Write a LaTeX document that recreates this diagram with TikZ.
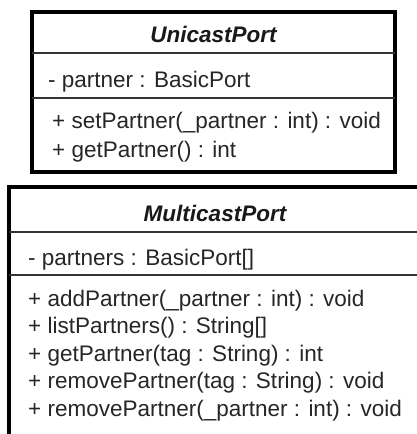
\documentclass[tikz,border=0pt]{standalone}
\usepackage{fontspec}
\setmainfont{Liberation Sans}
\usetikzlibrary{positioning}
\tikzset{%
  classbox/.style={draw=black, line width=4pt, fill=white},
  sepline/.style={draw=black!80, line width=1.6pt},
  member/.style={anchor=base west, inner sep=0pt, text=black!85, font=\fontsize{22.5}{26}\selectfont},
  classname/.style={anchor=base, inner sep=0pt, text=black!90, font=\fontsize{22.5}{26}\selectfont\bfseries\itshape}
}

\begin{document}
\begin{tikzpicture}[x=1pt,y=-1pt]
\clip (0,0) rectangle (417,434);
\fill[white] (0,0) rectangle (417,434);
% UnicastPort
\draw[classbox] (32,12) rectangle (395,172);
\draw[sepline] (32,53)--(395,53);
\draw[sepline] (32,98)--(395,98);
\node[classname] (uniName) at (213.5,42) {UnicastPort};
\node[member] (uniAttr) at (48,87) {- partner : BasicPort};
\node[member] (uniSet) at (52,128) {+ setPartner(\_partner : int) : void};
\node[member] (uniGet) at (52,157) {+ getPartner() : int};
% MulticastPort
\draw[classbox] (9,187) rectangle (424,450);
\draw[sepline] (9,232)--(424,232);
\draw[sepline] (9,275)--(424,275);
\node[classname] (multiName) at (215,221) {MulticastPort};
\node[member] (multiAttr) at (28,265) {- partners : BasicPort[]};
\node[member] (multiAdd) at (28,306) {+ addPartner(\_partner : int) : void};
\node[member] (multiList) at (28,333) {+ listPartners() : String[]};
\node[member] (multiGet) at (28,361) {+ getPartner(tag : String) : int};
\node[member] (multiRemTag) at (28,388) {+ removePartner(tag : String) : void};
\node[member] (multiRemInt) at (28,416) {+ removePartner(\_partner : int) : void};
\end{tikzpicture}
\end{document}
